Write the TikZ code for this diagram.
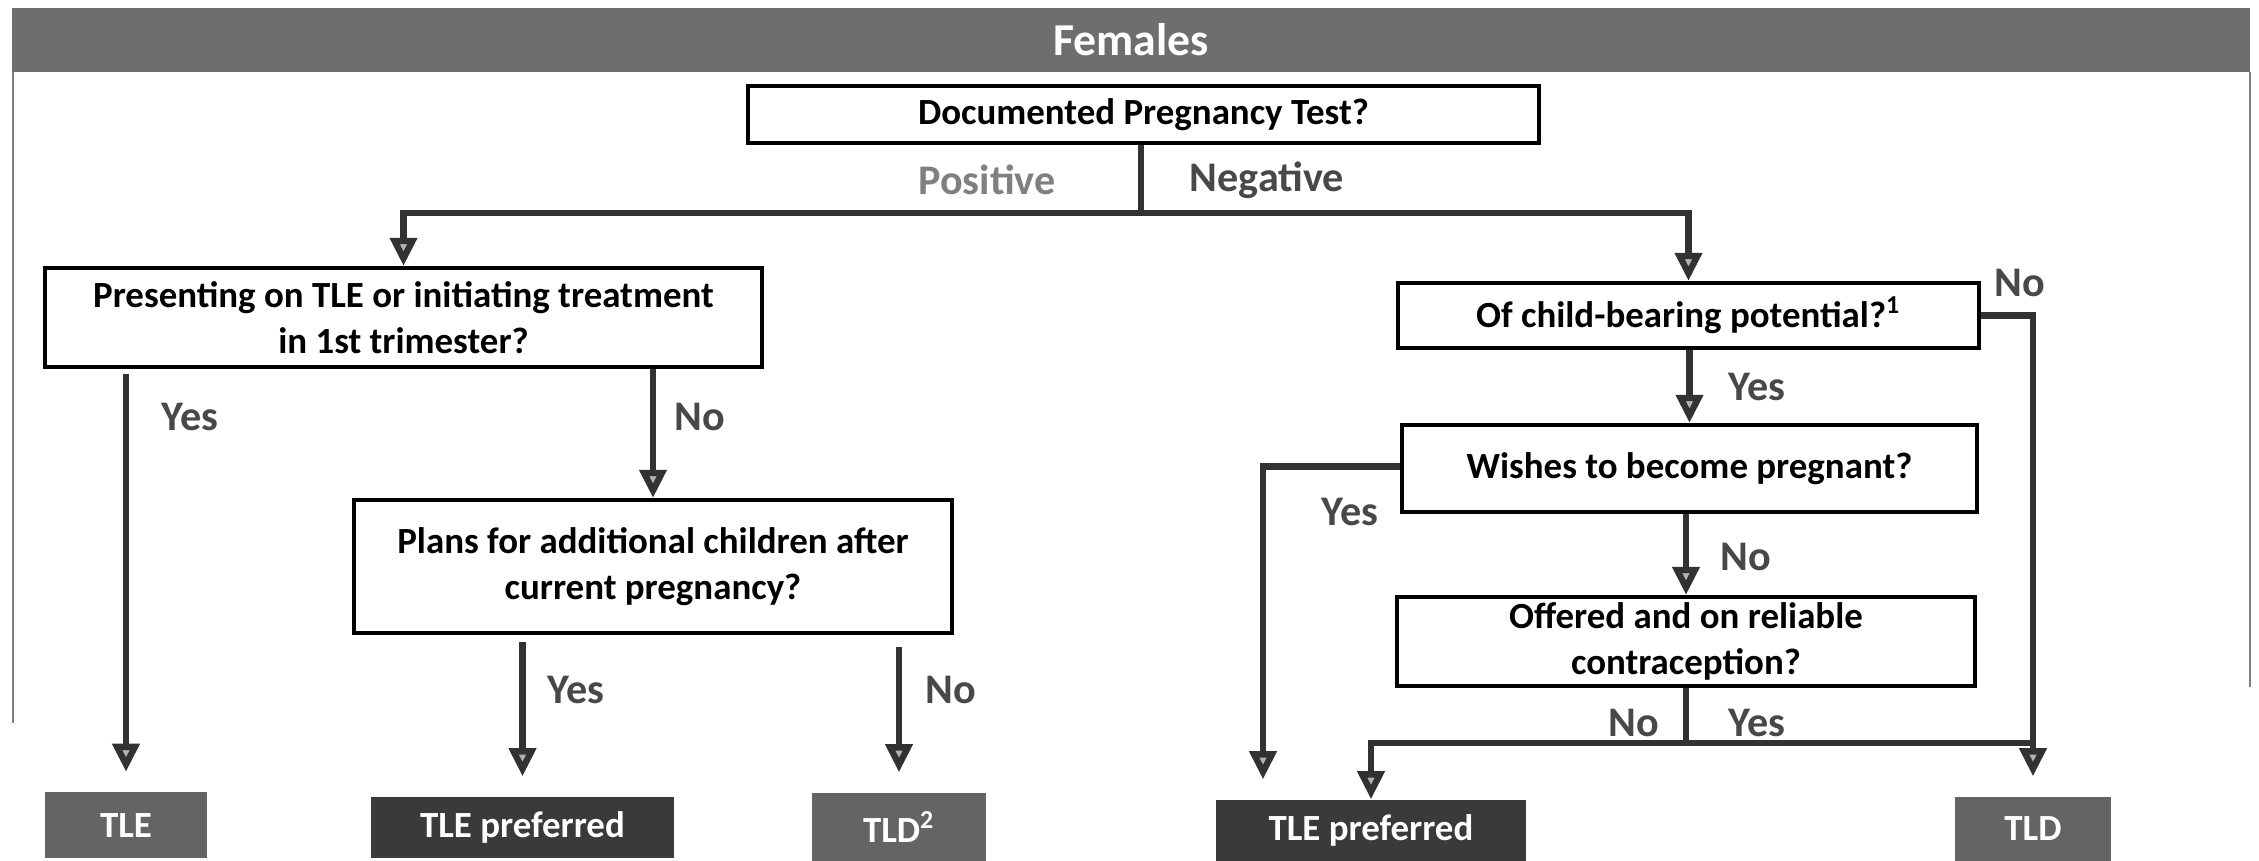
\documentclass[tikz,border=0pt]{standalone}
\usepackage{fontspec}
\setmainfont{Carlito}
\usetikzlibrary{arrows.meta,positioning}
\definecolor{bar}{RGB}{110,110,110}
\definecolor{dark}{RGB}{58,58,58}
\definecolor{mid}{RGB}{100,100,100}
\definecolor{ln}{RGB}{50,50,50}
\definecolor{lbl}{RGB}{72,72,72}
\tikzset{
	qbox/.style={draw=black, line width=1.2pt, fill=white, inner sep=0pt, align=center, font=\fontsize{10.5}{13}\selectfont\bfseries},
	obox/.style={inner sep=0pt, text=white, font=\fontsize{10.5}{13}\selectfont\bfseries},
	lbl/.style={text=lbl, font=\fontsize{12}{14}\selectfont\bfseries},
	arr/.style={draw=ln, line width=1.8pt, -{Triangle[length=8pt,width=7.5pt,fill=gray!60]}},
	ln/.style={draw=ln, line width=1.8pt},
	gap/.style={shorten >=0.2cm},
}
\begin{document}
\begin{tikzpicture}
			\useasboundingbox (0,0) rectangle (22.59,-8.61);
			\node[fill=bar, minimum width=22.38cm, minimum height=0.64cm, inner sep=0pt, text=white, font=\fontsize{13}{15}\selectfont\bfseries] (t) at (11.31,-0.40) {Females};
			\draw[gray, line width=0.5pt] (0.13,-0.72) -- (0.13,-7.23);
			\draw[gray, line width=0.5pt] (22.50,-0.72) -- (22.50,-6.87);
			\node[qbox, minimum width=7.91cm, minimum height=0.57cm] (0) at (11.435,-1.145) {Documented Pregnancy Test?};
			\node[qbox, minimum width=7.17cm, minimum height=0.99cm] (1) at (4.035,-3.175) {Presenting on TLE or initiating treatment\\in 1st trimester?};
			\node[qbox, minimum width=5.81cm, minimum height=0.65cm] (2) at (16.885,-3.155) {Of child-bearing potential?\textsuperscript{1}};
			\node[qbox, minimum width=5.98cm, minimum height=1.33cm] (3) at (6.53,-5.665) {Plans for additional children after\\current pregnancy?};
			\node[qbox, minimum width=5.75cm, minimum height=0.87cm] (4) at (16.895,-4.685) {Wishes to become pregnant?};
			\node[qbox, minimum width=5.78cm, minimum height=0.89cm] (5) at (16.86,-6.415) {Offered and on reliable\\contraception?};
			\node[obox, fill=mid, minimum width=1.62cm, minimum height=0.66cm] (6) at (1.26,-8.255) {TLE};
			\node[obox, fill=dark, minimum width=3.03cm, minimum height=0.61cm] (7) at (5.225,-8.275) {TLE preferred};
			\node[obox, fill=mid, minimum width=1.74cm, minimum height=0.68cm] (8) at (8.99,-8.27) {TLD\textsuperscript{2}};
			\node[obox, fill=dark, minimum width=3.10cm, minimum height=0.61cm] (9) at (13.71,-8.305) {TLE preferred};
			\node[obox, fill=mid, minimum width=1.56cm, minimum height=0.64cm] (10) at (20.33,-8.29) {TLD};
			\coordinate (s) at (11.41,-2.13);
			\coordinate (u) at (16.86,-7.43);
			\node[lbl, text=gray] (11) at (9.87,-1.80) {Positive};
			\node[lbl] (12) at (12.67,-1.80) {Negative};
			\node[lbl] (13) at (1.90,-4.17) {Yes};
			\node[lbl] (14) at (7.00,-4.17) {No};
			\node[lbl] (15) at (5.76,-6.90) {Yes};
			\node[lbl] (16) at (9.51,-6.90) {No};
			\node[lbl] (17) at (20.20,-2.83) {No};
			\node[lbl] (18) at (17.57,-3.87) {Yes};
			\node[lbl] (19) at (13.50,-5.12) {Yes};
			\node[lbl] (20) at (17.46,-5.57) {No};
			\node[lbl] (21) at (16.34,-7.23) {No};
			\node[lbl] (22) at (17.57,-7.23) {Yes};
			\draw [ln] (0.south -| s) to (s);
			\draw [arr] (s) -| (1.north);
			\draw [arr] (s) -| (2.north);
			\draw [arr, gap] ([yshift=-0.05cm]6 |- 1.south) to (6.north);
			\draw [arr] (1.south -| 3.north) to (3.north);
			\draw [arr, gap] ([yshift=-0.07cm]7 |- 3.south) to (7.north);
			\draw [arr, gap] ([yshift=-0.12cm]8 |- 3.south) to (8.north);
			\draw [arr] (2.south -| 4.north) to (4.north);
			\draw [arr, gap] (2.east) -| (10.north);
			\draw [arr] (4.south -| u) to (u |- 5.north);
			\draw [arr, gap] ([yshift=0.02cm]4.west) -| ([xshift=-1.08cm]9.north);
			\draw [ln] (5.south -| u) to (u);
			\draw [ln] (u) to (u -| 10.north);
			\draw [arr] (u) -| (9.north);
			\end{tikzpicture}
\end{document}
